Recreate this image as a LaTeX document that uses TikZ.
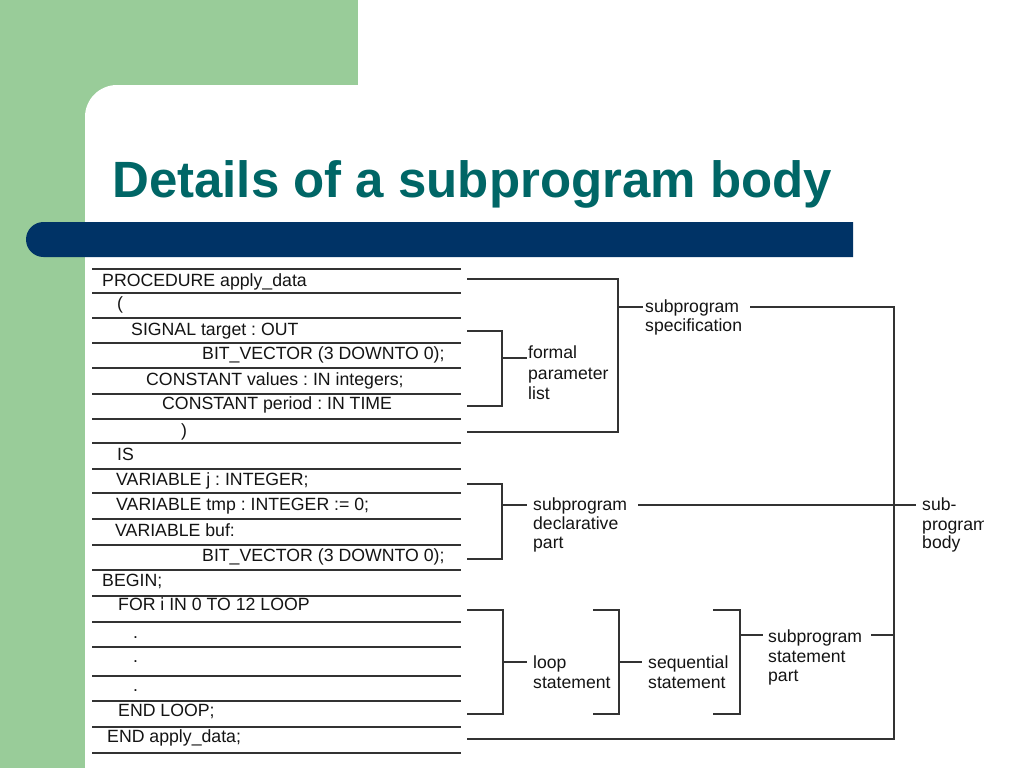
\documentclass[tikz,border=0pt]{standalone}
\usepackage{fontspec}
\setmainfont{Liberation Sans}
\definecolor{bggreen}{HTML}{99CC99}
\definecolor{barnavy}{HTML}{003366}
\definecolor{titleteal}{HTML}{006666}
\definecolor{txt}{HTML}{141414}
\definecolor{lin}{HTML}{333333}
\begin{document}
\frenchspacing
\begin{tikzpicture}[x=1pt,y=-1pt,
  code/.style={anchor=base west, inner sep=0pt, font=\fontsize{17.7}{20}\selectfont, text=txt},
  lbl/.style={anchor=base west, inner sep=0pt, font=\fontsize{17.6}{20}\selectfont, text=txt},
  rule/.style={line width=1.4pt, draw=lin},
  brk/.style={line width=1.3pt, draw=lin}]
\useasboundingbox (0,0) rectangle (1024,768);
% background
\fill[white] (0,0) rectangle (1024,768);
\fill[bggreen] (0,0) rectangle (358,130);
\fill[bggreen] (0,0) rectangle (85,768);
\fill[white] (85,768) -- (85,117) arc[start angle=180, end angle=270, radius=32] -- (1024,85) -- (1024,768) -- cycle;
% navy bar
\fill[barnavy] (853,222) -- (43.5,222) arc[start angle=270, end angle=90, radius=17.5] -- (853,257) -- cycle;
% title
\node[anchor=base west, inner sep=0pt, text=titleteal, font=\fontsize{51}{60}\selectfont\bfseries] (title) at (112,197) {Details of a subprogram body};
% code rules
\foreach \y in {269,293,318,343,368,394,419,443,469,493,519,545,570,596,622,647,676,701,727,753}
  \draw[rule] (92,\y) -- (461,\y);
% code text
\node[code] (c1) at (102,286.7) {PROCEDURE apply\_data};
\node[code] (c2) at (117,309) {(};
\node[code] (c3) at (131,335) {SIGNAL target : OUT};
\node[code] (c4) at (202,359) {BIT\_VECTOR (3 DOWNTO 0);};
\node[code] (c5) at (146,385.7) {CONSTANT values : IN integers;};
\node[code] (c6) at (162,409) {CONSTANT period : IN TIME};
\node[code] (c7) at (181,436) {)};
\node[code] (c8) at (117,460) {IS};
\node[code] (c9) at (116,485) {VARIABLE j : INTEGER;};
\node[code] (c10) at (116,510) {VARIABLE tmp : INTEGER := 0;};
\node[code] (c11) at (115,536) {VARIABLE buf:};
\node[code] (c12) at (202,561) {BIT\_VECTOR (3 DOWNTO 0);};
\node[code] (c13) at (102,586.7) {BEGIN;};
\node[code] (c14) at (118,610) {FOR i IN 0 TO 12 LOOP};
\node[code] (c15) at (133,638) {.};
\node[code] (c16) at (133,662) {.};
\node[code] (c17) at (133,691) {.};
\node[code] (c18) at (118,716) {END LOOP;};
\node[code] (c19) at (107,742.7) {END apply\_data;};
% labels
\node[lbl] (spec1) at (645,312) {subprogram};
\node[lbl] (spec2) at (645,331) {specification};
\node[lbl] (fpl1) at (528,358) {formal};
\node[lbl] (fpl2) at (528,379) {parameter};
\node[lbl] (fpl3) at (528,399) {list};
\node[lbl] (dec1) at (533,510) {subprogram};
\node[lbl] (dec2) at (533,529) {declarative};
\node[lbl] (dec3) at (533,548) {part};
\node[lbl] (loop1) at (533,668) {loop};
\node[lbl] (loop2) at (533,688) {statement};
\node[lbl] (seq1) at (648,668) {sequential};
\node[lbl] (seq2) at (648,688) {statement};
\node[lbl] (stp1) at (768,642) {subprogram};
\node[lbl] (stp2) at (768,662) {statement};
\node[lbl] (stp3) at (768,681) {part};
\begin{scope}
\clip (0,0) rectangle (983,768);
\node[lbl] (body1) at (922,510) {sub-};
\node[lbl] (body2) at (922,530) {program};
\node[lbl] (body3) at (922,548) {body};
\end{scope}
% bracket coordinates
\coordinate (specV) at (618,307);
\coordinate (fplV) at (502,358);
\coordinate (decV) at (502,505);
\coordinate (loopV) at (503,662);
\coordinate (seqV) at (619,662);
\coordinate (stpV) at (740,635);
\coordinate (bodyV) at (894,505);
% subprogram specification
\draw[brk] (467,279) -- (618,279) -- (618,432) -- (467,432);
\draw[brk] (specV) -- (643,307);
% formal parameter list
\draw[brk] (467,331) -- (502,331) -- (502,406) -- (467,406);
\draw[brk] (fplV) -- (527,358);
% declarative part
\draw[brk] (467,484) -- (502,484) -- (502,559) -- (467,559);
\draw[brk] (decV) -- (527,505);
\draw[brk] (638,505) -- (bodyV) -- (916,505);
% loop statement
\draw[brk] (467,610) -- (503,610) -- (503,714) -- (467,714);
\draw[brk] (loopV) -- (527,662);
% sequential statement
\draw[brk] (593,610) -- (619,610) -- (619,714) -- (593,714);
\draw[brk] (seqV) -- (642,662);
% statement part
\draw[brk] (713,610) -- (740,610) -- (740,714) -- (713,714);
\draw[brk] (stpV) -- (763,635);
\draw[brk] (871,635) -- (894,635);
% body
\draw[brk] (750,307) -- (894,307) -- (894,739) -- (467,739);
\end{tikzpicture}
\end{document}
